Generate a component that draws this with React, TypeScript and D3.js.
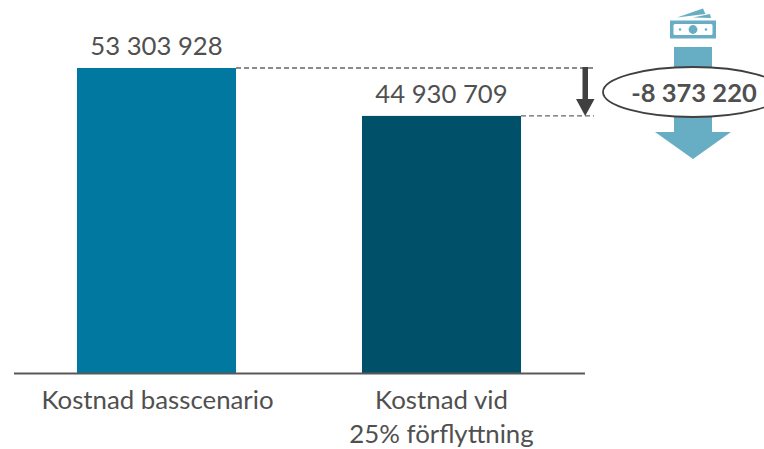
import React from "react";
import * as d3 from "d3";

const categories = ["Kostnad basscenario", "Kostnad vid|25% förflyttning"];
const values = [53303928, 44930709];
const valueLabels = ["53 303 928", "44 930 709"];
const barColors = ["#00789F", "#00506A"];
const differenceLabel = "-8 373 220";

const FONT = "Lato, 'Open Sans', sans-serif";
const TEXT = "#505050";
const ACCENT = "#67AEC5";

const x = d3.scaleBand<number>().domain([0, 1]).range([14, 584]).paddingInner(0.442).paddingOuter(0.221);
const y = d3.scaleLinear().domain([0, values[0]]).range([373, 68]);

export default function App() {
  const cx = 693;
  const refRight = 594;
  return (
    <svg width={764} height={449} style={{ position: "absolute", left: 0, top: 0, background: "#fff" }}>
      {values.map((v, i) => (
        <g key={i}>
          <rect x={x(i)} y={y(v)} width={x.bandwidth()} height={y(0) - y(v)} fill={barColors[i]} />
          <text x={x(i)! + x.bandwidth() / 2} y={y(v) - 13} textAnchor="middle" fontFamily={FONT} fontSize={25.7} fill={TEXT}>
            {valueLabels[i]}
          </text>
          <line
            x1={x(i)! + x.bandwidth()}
            x2={refRight}
            y1={y(v)}
            y2={y(v)}
            stroke="#666"
            strokeWidth={1.3}
            strokeDasharray="5 3"
          />
          {categories[i].split("|").map((line, j) => (
            <text key={j} x={x(i)! + x.bandwidth() / 2 + (i === 0 ? 1 : 0)} y={409 + j * 34} textAnchor="middle" fontFamily={FONT} fontSize={25.8} fill={TEXT}>
              {line}
            </text>
          ))}
        </g>
      ))}
      <line x1={14} x2={585} y1={y(0) + 0.5} y2={y(0) + 0.5} stroke="#595959" strokeWidth={2} />

      {/* Difference arrow between the two bar tops */}
      <rect x={582.5} y={y(values[0]) - 1} width={5.5} height={33} fill="#404040" />
      <path d={`M576 ${y(values[1]) - 17}H594.5L585.2 ${y(values[1])}Z`} fill="#404040" />

      {/* Banknote icon */}
      <g fill={ACCENT}>
        <path d="M677 17.5L703 8.5L705.5 14Z" />
        <path d="M693 17.5L710 14L711 18Z" />
        <rect x={670} y={20.5} width={46} height={18} />
        <rect x={673.5} y={24} width={39} height={11} rx={1.5} fill="#fff" />
        <circle cx={cx} cy={29.5} r={4.4} />
        <circle cx={680} cy={29.5} r={1.3} />
        <circle cx={706} cy={29.5} r={1.3} />
      </g>

      {/* Downward savings arrow and the labelled ellipse over it */}
      <path d={`M674 47H712V132H731L${cx} 159L655 132H674Z`} fill={ACCENT} />
      <ellipse cx={cx} cy={92} rx={90} ry={25} fill="#fff" stroke="#404040" strokeWidth={1.8} />
      <text x={694} y={101.5} textAnchor="middle" fontFamily={FONT} fontWeight={700} fontSize={25.5} fill={TEXT}>
        {differenceLabel}
      </text>
    </svg>
  );
}
